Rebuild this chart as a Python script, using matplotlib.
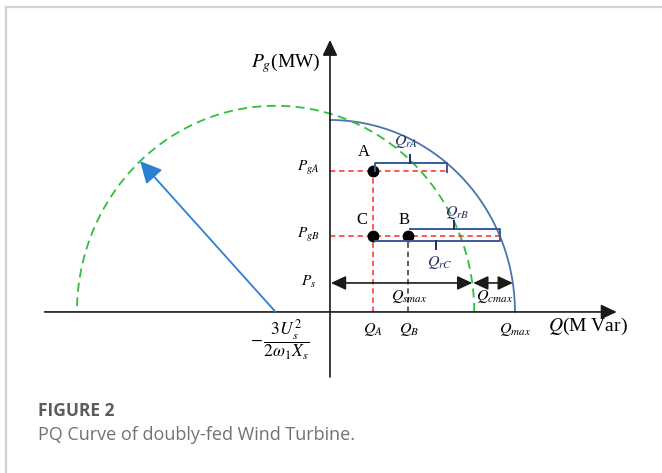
import numpy as np
import matplotlib.pyplot as plt
from matplotlib.lines import Line2D

plt.rcParams['mathtext.fontset'] = 'stix'
plt.rcParams['font.family'] = ['Liberation Serif', 'DejaVu Serif']

# operating limits (per unit of stator limit radius)
q_max = 1.0
rotor_center = -0.294     # -3Us^2 / (2 w1 Xs)
rotor_radius = 1.074
arrow_angle = 133.0       # degrees, rotor radius arrow

q_a = 0.232
q_b = 0.42
p_ga = 0.734
p_gb = 0.396
p_s = 0.151
bracket_a_end = 0.63

stator_col = '#4a74ad'
rotor_col = '#2fbf3f'
bracket_col = '#3d5a96'
tick_col = '#1e2f66'
red = '#ff2a2a'


def stator_q(p):
    return np.sqrt(q_max ** 2 - p ** 2)


def rotor_q(p):
    return rotor_center + np.sqrt(rotor_radius ** 2 - p ** 2)


fig = plt.figure(figsize=(6.62, 4.73), dpi=100)
ax = fig.add_axes([0, 0, 1, 1])
ax.set_xlim(-1.784, 1.795)
ax.set_ylim(-0.839, 1.625)
ax.axis('off')

# page frame
fig.add_artist(Line2D([6 / 662, 1], [1 - 7 / 473] * 2, transform=fig.transFigure, color='#d2d2d2', lw=1.6))
fig.add_artist(Line2D([6 / 662] * 2, [0, 1 - 7 / 473], transform=fig.transFigure, color='#d2d2d2', lw=1.6))

# axes
head = dict(arrowstyle='-|>,head_length=0.95,head_width=0.45', mutation_scale=10,
            color='#1a1a1a', lw=1.2, shrinkA=0, shrinkB=0)
ax.annotate('', xy=(1.55, 0), xytext=(-1.543, 0), arrowprops=head)
ax.annotate('', xy=(0, 1.417), xytext=(0, -0.339), arrowprops=head)

# stator limit (blue) and rotor limit (green dashed)
t = np.linspace(0, np.pi / 2, 200)
ax.plot(q_max * np.cos(t), q_max * np.sin(t), color=stator_col, lw=1.3)
t = np.linspace(0, np.pi, 300)
ax.plot(rotor_center + rotor_radius * np.cos(t), rotor_radius * np.sin(t),
        color=rotor_col, lw=1.3, dashes=(5, 3))

ang = np.deg2rad(arrow_angle)
ax.annotate('', xy=(rotor_center + rotor_radius * np.cos(ang), rotor_radius * np.sin(ang)),
            xytext=(rotor_center, 0),
            arrowprops=dict(arrowstyle='-|>,head_length=1.1,head_width=0.55', mutation_scale=12,
                            color='#2d7fd2', lw=1.3, shrinkA=0, shrinkB=0))

# operating point guides
ax.plot([0, bracket_a_end], [p_ga, p_ga], color=red, lw=1.1, dashes=(3.5, 2.5))
ax.plot([0, stator_q(p_gb)], [p_gb, p_gb], color=red, lw=1.1, dashes=(3.5, 2.5))
ax.plot([q_a, q_a], [0, p_ga], color=red, lw=1.1, dashes=(3.5, 2.5))
ax.plot([q_b, q_b], [0, p_gb], color='#333333', lw=1.1, dashes=(3.5, 2.5))
ax.plot([q_a, q_a, q_b], [p_ga, p_gb, p_gb], 'o', color='black', ms=7.5)

# rotor reactive power brackets
dy = 0.04
edge_b = stator_q(p_gb)
ax.plot([q_a + 0.01, q_a + 0.01, bracket_a_end, bracket_a_end],
        [p_ga, p_ga + dy, p_ga + dy, p_ga - 0.005], color=bracket_col, lw=1.4)
ax.plot([q_b + 0.01, edge_b, edge_b, q_a + 0.01],
        [p_gb + 0.036, p_gb + 0.036, p_gb - 0.026, p_gb - 0.026], color=bracket_col, lw=1.4)
mid_a = (q_a + bracket_a_end) / 2
mid_b = (q_b + edge_b) / 2
mid_c = (q_a + edge_b) / 2
ax.plot([mid_a, mid_a], [p_ga + dy, p_ga + dy + 0.045], color=tick_col, lw=1.4)
ax.plot([mid_b, mid_b], [p_gb + 0.036, p_gb + 0.08], color=tick_col, lw=1.4)
ax.plot([mid_c, mid_c], [p_gb - 0.026, p_gb - 0.07], color=tick_col, lw=1.4)

# Ps capacity arrows
sh = dict(arrowstyle='<|-|>,head_length=0.9,head_width=0.42', mutation_scale=10,
          color='#1a1a1a', lw=1.2, shrinkA=0, shrinkB=0)
ax.annotate('', xy=(rotor_q(p_s), p_s), xytext=(0.005, p_s), arrowprops=sh)
ax.annotate('', xy=(stator_q(p_s), p_s), xytext=(rotor_q(p_s) + 0.005, p_s), arrowprops=sh)

# labels
ax.text(-0.05, 1.297, r'$P_g$(MW)', fontsize=14, ha='right', va='center')
ax.text(1.18, -0.075, r'$Q$(M Var)', fontsize=14, ha='left', va='center')
ax.text(-0.055, 0.75, r'$P_{gA}$', fontsize=11, ha='right', va='center')
ax.text(-0.055, 0.40, r'$P_{gB}$', fontsize=11, ha='right', va='center')
ax.text(-0.075, 0.155, r'$P_s$', fontsize=11, ha='right', va='center')
ax.text(0.185, 0.833, 'A', fontsize=12, ha='center', va='center')
ax.text(0.172, 0.479, 'C', fontsize=12, ha='center', va='center')
ax.text(0.40, 0.479, 'B', fontsize=12, ha='center', va='center')
ax.text(0.41, 0.89, r'$Q_{rA}$', fontsize=11.5, ha='center', va='center', color=tick_col)
ax.text(0.69, 0.52, r'$Q_{rB}$', fontsize=11.5, ha='center', va='center', color=tick_col)
ax.text(0.595, 0.26, r'$Q_{rC}$', fontsize=11.5, ha='center', va='center', color=tick_col)
ax.text(0.43, 0.078, r'$Q_{smax}$', fontsize=11.5, ha='center', va='center')
ax.text(0.89, 0.078, r'$Q_{cmax}$', fontsize=11.5, ha='center', va='center')
ax.text(q_a, -0.09, r'$Q_A$', fontsize=11.5, ha='center', va='center')
ax.text(q_b + 0.01, -0.09, r'$Q_B$', fontsize=11.5, ha='center', va='center')
ax.text(q_max, -0.09, r'$Q_{max}$', fontsize=11.5, ha='center', va='center')
ax.text(-0.27, -0.145, r'$-\,\dfrac{3U_s^2}{2\omega_1 X_s}$', fontsize=12.5, ha='center', va='center')

# caption
fig.text(38 / 662, 1 - 411 / 473, 'FIGURE 2', fontsize=12.5, fontweight='bold',
         family=['Open Sans', 'DejaVu Sans'], color='#5c5c5c', va='center')
fig.text(38 / 662, 1 - 435 / 473, 'PQ Curve of doubly-fed Wind Turbine.', fontsize=13,
         family=['Open Sans', 'DejaVu Sans'], color='#727272', va='center')

fig.savefig('out.png', dpi=100)
